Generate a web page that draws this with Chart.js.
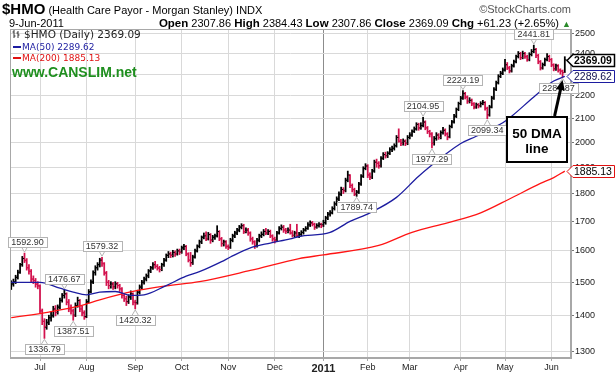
<!DOCTYPE html>
<html><head><meta charset="utf-8">
<script src="https://cdn.jsdelivr.net/npm/chart.js@4.4.1/dist/chart.umd.min.js"></script>
<style>
html,body{margin:0;padding:0;background:#fff;}
#wrap{position:relative;width:616px;height:375px;overflow:hidden;font-family:"Liberation Sans",Arial,sans-serif;color:#000;}
canvas{position:absolute;left:0;top:0;}
.t{position:absolute;white-space:nowrap;}
.dash{display:inline-block;width:8px;height:2px;vertical-align:middle;margin-right:1px;}
</style></head><body>
<div id="wrap">
<canvas id="c" width="616" height="375" style="width:616px;height:375px"></canvas>
<div class="t" style="left:2px;top:0px;line-height:17px;"><span style="font-size:15px;font-weight:bold">$HMO</span><span style="font-size:11px"> (Health Care Payor - Morgan Stanley) INDX</span></div>
<div class="t" style="right:45px;top:3px;font-size:11px;line-height:13px;color:#555">©StockCharts.com</div>
<div class="t" style="left:9px;top:17px;font-size:11px;line-height:13px">9-Jun-2011</div>
<div class="t" id="ohlc" style="right:45px;top:17px;font-size:11px;line-height:13px"></div>
<div class="t" id="lg1" style="left:12px;top:28px;font-family:'DejaVu Sans',sans-serif;font-size:10.5px;line-height:13px;color:#222"></div>
<div class="t" id="lg2" style="left:13px;top:41.5px;font-family:'DejaVu Sans',sans-serif;font-size:9px;line-height:11px;color:#1c1ca0"></div>
<div class="t" id="lg3" style="left:13px;top:52.5px;font-family:'DejaVu Sans',sans-serif;font-size:9px;line-height:11px;color:#e01010"></div>
<div class="t" style="left:12px;top:64px;font-size:14px;font-weight:bold;line-height:16px;color:#1f8f1f">www.CANSLIM.net</div>
</div>
<script>
// ---- data (trading-day index 0 = 14-Jun-2010 ... 250 = 9-Jun-2011) ----
const open = [
1490,1495,1502,1516,1532,1556,1576,1568,1546,1534,
1510,1506,1494,1488,1414,1384,1368,1382,1394,1402,
1420,1410,1426,1446,1460,1464,1440,1420,1414,1402,
1430,1444,1420,1408,1398,1442,1472,1502,1530,1546,
1556,1570,1558,1528,1500,1490,1494,1486,1496,1490,
1480,1460,1450,1442,1456,1464,1440,1438,1470,1486,
1500,1510,1520,1536,1546,1556,1550,1544,1540,1556,
1570,1586,1590,1586,1594,1590,1600,1596,1610,1614,
1590,1570,1562,1580,1600,1616,1630,1646,1652,1640,
1654,1636,1646,1650,1664,1640,1624,1630,1614,1612,
1636,1650,1660,1670,1680,1684,1664,1670,1660,1640,
1630,1616,1636,1650,1656,1666,1660,1666,1650,1640,
1636,1660,1676,1680,1670,1666,1670,1660,1652,1660,
1650,1656,1662,1670,1676,1688,1694,1690,1680,1686,
1690,1688,1696,1712,1726,1730,1746,1762,1780,1798,
1815,1812,1850,1868,1830,1814,1798,1806,1836,1866,
1896,1904,1870,1862,1886,1920,1916,1906,1936,1950,
1946,1956,1970,1976,1986,2020,2004,1996,2004,1996,
2020,2030,2046,2056,2074,2060,2070,2084,2060,2044,
2034,1996,2016,2030,2020,2040,2050,2034,2022,2066,
2086,2110,2140,2166,2190,2210,2194,2176,2180,2164,
2150,2160,2156,2166,2170,2144,2116,2150,2190,2230,
2260,2290,2305,2320,2346,2330,2316,2340,2360,2386,
2400,2380,2400,2384,2370,2396,2410,2420,2390,2360,
2330,2346,2370,2386,2370,2344,2326,2340,2320,2315,
2307.86];
const high = [
1505,1510,1522,1538,1560,1582,1592.9,1575,1556,1540,
1520,1512,1502,1492,1420,1392,1390,1402,1410,1428,
1430,1432,1452,1466,1476.67,1468,1448,1432,1420,1438,
1455,1448,1428,1415,1448,1478,1508,1536,1552,1562,
1576,1579.32,1562,1534,1506,1502,1500,1502,1500,1494,
1484,1466,1458,1462,1474,1468,1446,1476,1492,1506,
1516,1526,1540,1550,1562,1566,1556,1550,1560,1576,
1590,1598,1596,1602,1600,1606,1606,1616,1622,1618,
1594,1595,1586,1606,1620,1636,1650,1660,1664,1662,
1658,1652,1656,1685,1668,1645,1636,1634,1620,1642,
1656,1666,1676,1686,1692,1690,1678,1676,1664,1646,
1634,1642,1656,1664,1672,1676,1672,1670,1654,1646,
1666,1682,1688,1686,1676,1678,1690,1668,1666,1690,
1662,1668,1676,1682,1696,1702,1700,1694,1692,1696,
1694,1704,1718,1732,1738,1752,1770,1788,1806,1824,
1822,1858,1885,1872,1836,1820,1812,1842,1872,1902,
1914,1910,1878,1892,1928,1932,1922,1942,1958,1960,
1962,1978,1984,1994,2028,2056,2012,2014,2010,2028,
2040,2052,2064,2082,2080,2082,2104.95,2090,2066,2050,
2040,2024,2040,2036,2048,2062,2056,2040,2072,2092,
2118,2146,2172,2198,2224.19,2216,2200,2192,2186,2170,
2168,2166,2174,2180,2174,2150,2158,2198,2238,2268,
2298,2314,2330,2372,2356,2338,2348,2368,2392,2410,
2406,2412,2406,2392,2404,2420,2441.81,2426,2396,2366,
2354,2378,2400,2392,2376,2350,2348,2346,2326,2320,
2384.43];
const low = [
1478,1488,1496,1510,1528,1550,1562,1538,1525,1502,
1496,1485,1480,1408,1375,1336.79,1362,1375,1385,1396,
1400,1405,1420,1440,1452,1432,1412,1405,1387.51,1398,
1425,1412,1400,1390,1395,1438,1468,1496,1522,1538,
1548,1550,1522,1490,1480,1482,1478,1480,1482,1472,
1452,1442,1430,1436,1448,1432,1420.32,1434,1464,1480,
1494,1504,1514,1530,1540,1544,1538,1532,1536,1550,
1566,1578,1578,1580,1582,1586,1588,1592,1604,1584,
1564,1550,1556,1576,1596,1610,1624,1640,1634,1636,
1625,1630,1638,1646,1634,1615,1616,1608,1604,1608,
1630,1644,1654,1664,1674,1658,1660,1652,1632,1622,
1608,1612,1630,1644,1650,1654,1654,1644,1632,1626,
1632,1656,1670,1662,1658,1660,1656,1646,1646,1646,
1644,1650,1656,1666,1672,1682,1684,1672,1676,1680,
1678,1682,1690,1706,1718,1726,1740,1756,1774,1792,
1800,1806,1844,1822,1806,1792,1789.74,1800,1830,1860,
1890,1860,1852,1856,1880,1900,1896,1900,1930,1936,
1938,1950,1962,1968,1980,2000,1986,1988,1986,1990,
2014,2024,2040,2050,2050,2054,2064,2052,2036,2022,
1977.29,1988,2008,2012,2014,2034,2026,2010,2018,2060,
2080,2104,2134,2160,2184,2186,2166,2168,2156,2142,
2144,2146,2150,2160,2136,2099.34,2110,2146,2184,2224,
2254,2284,2298,2314,2322,2306,2310,2334,2354,2378,
2370,2374,2376,2362,2364,2388,2404,2380,2350,2320,
2324,2340,2364,2360,2336,2316,2318,2310,2300,2284.87,
2307.86];
const close = [
1495,1500,1515,1530,1555,1575,1570,1545,1535,1510,
1505,1495,1490,1415,1385,1370,1380,1395,1400,1420,
1410,1425,1445,1460,1465,1440,1420,1415,1400,1430,
1445,1420,1410,1395,1440,1470,1500,1530,1545,1555,
1570,1560,1530,1500,1490,1495,1485,1495,1490,1480,
1460,1450,1440,1455,1465,1440,1435,1470,1485,1500,
1510,1520,1535,1545,1555,1550,1545,1540,1555,1570,
1585,1590,1585,1595,1590,1600,1595,1610,1615,1590,
1570,1560,1580,1600,1615,1630,1645,1650,1640,1655,
1635,1645,1650,1665,1640,1625,1630,1615,1610,1635,
1650,1660,1670,1680,1685,1665,1670,1660,1640,1630,
1615,1635,1650,1655,1665,1660,1665,1650,1640,1635,
1660,1675,1680,1670,1665,1670,1660,1652,1660,1650,
1655,1662,1670,1675,1688,1695,1690,1680,1685,1690,
1685,1695,1712,1725,1730,1745,1762,1780,1798,1815,
1810,1850,1870,1830,1815,1798,1805,1835,1865,1895,
1905,1870,1862,1885,1920,1915,1905,1935,1950,1945,
1955,1970,1975,1985,2020,2005,1995,2005,1995,2020,
2030,2045,2055,2075,2060,2070,2085,2060,2045,2035,
1995,2015,2030,2020,2040,2050,2035,2020,2065,2085,
2110,2140,2165,2190,2210,2195,2175,2180,2165,2150,
2160,2155,2165,2170,2145,2115,2150,2190,2230,2260,
2290,2305,2320,2345,2330,2315,2340,2360,2385,2400,
2380,2400,2385,2370,2395,2410,2420,2390,2360,2330,
2345,2370,2385,2370,2345,2325,2340,2320,2315,2307.86,
2369.09];

// moving averages at selected trading days
const ma50Idx = [0,13,22,28,34,40,47,54,60,70,79,85,95,99,108,117,126,130,144,153,162,174,184,196,203,210,217,222,226,236,245,250];
const ma50    = [1500,1500,1482,1470,1462,1470,1472,1460,1462,1490,1519,1533,1565,1580,1610,1626,1640,1648,1662,1700,1730,1786,1865,1950,1995,2025,2058,2082,2110,2195,2268,2289.62];
const ma200Idx = [0,17,31,40,55,70,85,108,130,141,166,181,197,212,225,239,245,250];
const ma200    = [1395,1411,1429,1447,1472,1489,1502,1537,1575,1587,1618,1662,1695,1730,1780,1838,1860,1885.13];

// axes
const monthIdx    = [13,34,56,77,98,119,141,161,180,203,223,244];
const monthLabels = ['Jul','Aug','Sep','Oct','Nov','Dec','2011','Feb','Mar','Apr','May','Jun'];
const yTicks = [1300,1400,1500,1600,1700,1800,1900,2000,2100,2200,2300,2400,2500];

// price annotations (index, H = high label above, L = low label below)
const labelIdx  = [6,15,24,28,41,56,156,186,190,204,215,236,249];
const labelSide = ['H','L','H','L','H','L','L','H','L','H','L','H','L'];
const calloutIdx = 249, calloutVal = 2287;

// header / legend texts
const N = close.length;
const last = N - 1;
const chg = close[last] - close[last-1];
document.getElementById('ohlc').innerHTML =
  '<b style="font-size:11.5px">Open</b> ' + open[last].toFixed(2) +
  ' <b style="font-size:11.5px">High</b> ' + high[last].toFixed(2) +
  ' <b style="font-size:11.5px">Low</b> ' + low[last].toFixed(2) +
  ' <b style="font-size:11.5px">Close</b> ' + close[last].toFixed(2) +
  ' <b style="font-size:11.5px">Chg</b> +' + chg.toFixed(2) + ' (+' + (chg/close[last-1]*100).toFixed(2) + '%) <span style="color:#2a8a2a;font-size:9px">▲</span>';
document.getElementById('lg1').innerHTML =
  '<svg width="9" height="10" style="vertical-align:-1px;margin-right:3px"><path d="M2 1V9M0.5 3H2M2 7H3.5M6 2V9M4.5 4H6M6 6H7.5" stroke="#333" stroke-width="1" fill="none"/></svg>$HMO (Daily) ' + close[last].toFixed(2);
document.getElementById('lg2').innerHTML = '<span class="dash" style="background:#1c1ca0"></span>MA(50) ' + ma50[ma50.length-1].toFixed(2);
document.getElementById('lg3').innerHTML = '<span class="dash" style="background:#e01010"></span>MA(200) ' + ma200[ma200.length-1].toFixed(2);

const UP = '#000000', DOWN = '#d3124e';
const barColors = close.map((c, i) => (i === 0 ? c >= open[0] : c >= close[i-1]) ? UP : DOWN);
const idx = close.map((_, i) => i);
const FONT = '"Liberation Sans", Arial, sans-serif';

const annoPlugin = {
  id: 'anno',
  afterDraw(chart) {
    const {ctx, chartArea: a, scales: {x, y}} = chart;
    ctx.save();
    // frame
    ctx.strokeStyle = '#a8a8a8'; ctx.lineWidth = 1;
    ctx.strokeRect(Math.round(a.left) + 0.5, Math.round(a.top) + 0.5, Math.round(a.right - a.left) - 1, Math.round(a.bottom - a.top) - 1);

    // price labels
    ctx.font = '9px ' + FONT;
    ctx.textAlign = 'center'; ctx.textBaseline = 'middle';
    labelIdx.forEach((i, k) => {
      const up = labelSide[k] === 'H';
      const v = up ? high[i] : low[i];
      const px = x.getPixelForValue(i), py = y.getPixelForValue(v);
      const txt = v.toFixed(2);
      const w = Math.round(ctx.measureText(txt).width + 6), h = 10;
      let cx = Math.max(a.left - 2 + w / 2, Math.min(a.right + 7 - w / 2, px));
      const by = Math.round(up ? py - 6 - h : py + 6);
      const ey = up ? by + h : by;
      ctx.strokeStyle = '#b4b4b4'; ctx.fillStyle = '#ffffff'; ctx.lineWidth = 1;
      ctx.beginPath();
      ctx.moveTo(px - 3, ey); ctx.lineTo(px, up ? py - 1 : py + 1); ctx.lineTo(px + 3, ey);
      ctx.fill(); ctx.stroke();
      const bx = Math.round(cx - w / 2) + 0.5;
      ctx.fillRect(bx, by + 0.5, w, h);
      ctx.strokeRect(bx, by + 0.5, w, h);
      ctx.fillStyle = '#333';
      ctx.fillText(txt, cx, by + h / 2 + 1);
    });

    // right-hand value tags
    const tags = [
      {v: ma200[ma200.length-1], border: '#e01010', text: '#000', bold: false, lw: 1},
      {v: ma50[ma50.length-1], border: '#1c1ca0', text: '#101050', bold: false, lw: 1},
      {v: close[last], border: '#000', text: '#000', bold: true, lw: 1.5}
    ];
    tags.forEach(t => {
      const ty = Math.round(y.getPixelForValue(t.v)) + 0.5;
      const x0 = a.right - 4, x1 = a.right + 2, x2 = 614.5, hh = 6;
      ctx.beginPath();
      ctx.moveTo(x0, ty); ctx.lineTo(x1, ty - hh); ctx.lineTo(x2, ty - hh); ctx.lineTo(x2, ty + hh); ctx.lineTo(x1, ty + hh); ctx.closePath();
      ctx.fillStyle = '#fff'; ctx.fill();
      ctx.strokeStyle = t.border; ctx.lineWidth = t.lw; ctx.stroke();
      ctx.fillStyle = t.text; ctx.textAlign = 'left';
      ctx.font = (t.bold ? 'bold ' : '') + '10.5px ' + FONT;
      ctx.fillText(t.v.toFixed(2), x1 + 1, ty + 1);
    });

    // 50 DMA callout
    const tx = x.getPixelForValue(calloutIdx), tyy = y.getPixelForValue(calloutVal);
    const bl = Math.round(tx - 56), bt = Math.round(tyy + 40), bw = 60, bh = 45;
    ctx.fillStyle = '#fff'; ctx.fillRect(bl, bt, bw, bh);
    ctx.strokeStyle = '#000'; ctx.lineWidth = 2; ctx.strokeRect(bl, bt, bw, bh);
    ctx.fillStyle = '#000'; ctx.textAlign = 'center';
    ctx.font = 'bold 13.5px ' + FONT;
    ctx.fillText('50 DMA', bl + bw / 2, bt + 17);
    ctx.fillText('line', bl + bw / 2, bt + 32);
    // arrow
    const sx = tx - 8, sy = bt - 1, ex = tx, ey2 = tyy + 3;
    const ang = Math.atan2(ey2 - sy, ex - sx);
    ctx.lineWidth = 3; ctx.lineCap = 'butt';
    ctx.beginPath(); ctx.moveTo(sx, sy);
    ctx.lineTo(ex - Math.cos(ang) * 8, ey2 - Math.sin(ang) * 8); ctx.stroke();
    ctx.beginPath();
    ctx.moveTo(ex, ey2);
    ctx.lineTo(ex - Math.cos(ang) * 10 + Math.sin(ang) * 4.5, ey2 - Math.sin(ang) * 10 - Math.cos(ang) * 4.5);
    ctx.lineTo(ex - Math.cos(ang) * 10 - Math.sin(ang) * 4.5, ey2 - Math.sin(ang) * 10 + Math.cos(ang) * 4.5);
    ctx.closePath(); ctx.fill();
    ctx.restore();
  }
};

new Chart(document.getElementById('c'), {
  type: 'line',
  data: {
    datasets: [
      {type: 'line', data: ma50Idx.map((v, k) => ({x: v, y: ma50[k]})), borderColor: '#1c1ca0', borderWidth: 1.3, pointRadius: 0, cubicInterpolationMode: 'monotone', order: 1},
      {type: 'line', data: ma200Idx.map((v, k) => ({x: v, y: ma200[k]})), borderColor: '#ff1414', borderWidth: 1.3, pointRadius: 0, cubicInterpolationMode: 'monotone', order: 2},
      {type: 'line', showLine: false, data: idx.map(i => ({x: i, y: close[i]})), pointStyle: 'dash', pointRotation: 0, pointRadius: 1.9, pointBorderWidth: 1, pointBorderColor: barColors, pointBackgroundColor: barColors, order: 3},
      {type: 'line', showLine: false, data: idx.map(i => ({x: i, y: open[i]})), pointStyle: 'dash', pointRotation: 180, pointRadius: 1.9, pointBorderWidth: 1, pointBorderColor: barColors, pointBackgroundColor: barColors, order: 4},
      {type: 'bar', data: idx.map(i => ({x: i, y: [low[i], high[i]]})), backgroundColor: barColors, barThickness: 1.1, borderWidth: 0, order: 5}
    ]
  },
  options: {
    responsive: false, devicePixelRatio: 1, animation: false,
    layout: {padding: {left: 10, top: 29, right: 0, bottom: 0}},
    plugins: {legend: {display: false}, tooltip: {enabled: false}, title: {display: false}},
    elements: {point: {hoverRadius: 0}},
    scales: {
      x: {
        type: 'linear', min: -0.55, max: 252.8, offset: false,
        afterBuildTicks: s => { s.ticks = monthIdx.map(v => ({value: v})); },
        afterFit: s => { s.height = 17; },
        ticks: {
          autoSkip: false, maxRotation: 0, padding: 1, color: '#222',
          callback: (v, i) => monthLabels[i],
          font: c => (c.tick && c.tick.value === 141) ? {family: FONT, size: 11, weight: 'bold'} : {family: FONT, size: 9}
        },
        grid: {color: c => (c.tick && c.tick.value === 141) ? '#8c8c8c' : '#d9d9d9', tickLength: 3, tickColor: '#aaa', offset: false},
        border: {color: '#a8a8a8'}
      },
      y: {
        type: 'logarithmic', position: 'right', min: 1284, max: 2524,
        afterBuildTicks: s => { s.ticks = yTicks.map(v => ({value: v})); },
        afterFit: s => { s.width = 45; },
        ticks: {color: '#222', padding: 1, font: {family: FONT, size: 9}, callback: v => String(v)},
        grid: {color: '#d9d9d9', tickLength: 3, tickColor: '#777'},
        border: {color: '#a8a8a8'}
      }
    }
  },
  plugins: [annoPlugin]
});
</script>
</body></html>
